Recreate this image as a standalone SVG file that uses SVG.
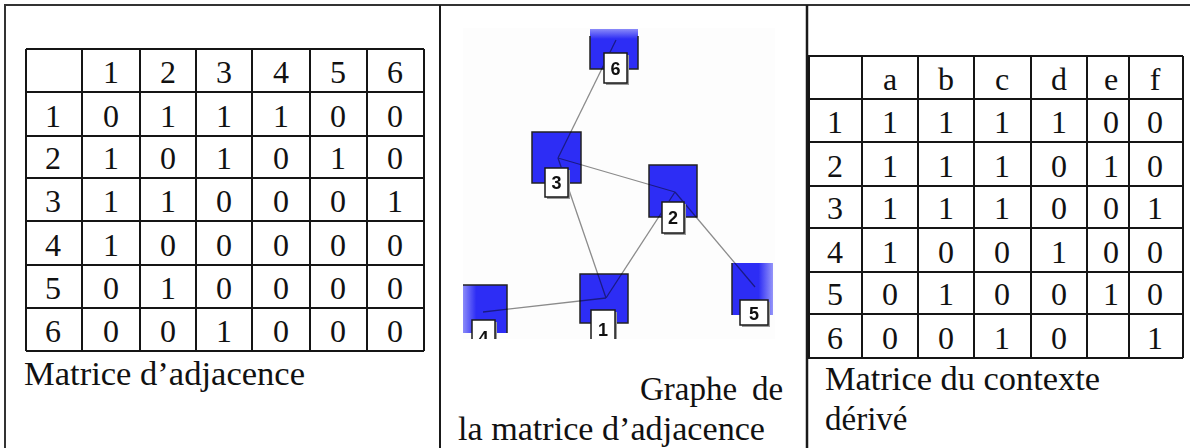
<svg xmlns="http://www.w3.org/2000/svg" width="1190" height="448" viewBox="0 0 1190 448">
<style>
.frame{stroke:#333;stroke-width:2;fill:none}
.grid{stroke:#151515;stroke-width:2;fill:none}
.t{font-family:"Liberation Serif","Times New Roman",serif;font-size:32px;fill:#111;text-anchor:middle}
.lbl{font-family:"Liberation Serif","Times New Roman",serif;font-size:33px;fill:#111}
.sq{stroke:#222;stroke-width:1.5}
.tag{fill:#fff;stroke:#1a1a1a;stroke-width:1.5}
.shadow{fill:#9a9a9a}
.num{font-family:"Liberation Sans",Arial,sans-serif;font-size:18px;font-weight:bold;fill:#111;text-anchor:middle}
.edge{stroke:#8c8c8c;stroke-width:1.3;fill:none}
</style>
<defs>
<linearGradient id="fadeTop" x1="0" y1="0" x2="0" y2="1">
<stop offset="0" stop-color="#2d2df5" stop-opacity="0.55"/>
<stop offset="0.25" stop-color="#2d2df5"/>
<stop offset="1" stop-color="#2d2df5"/>
</linearGradient>
<linearGradient id="fadeLeft" x1="0" y1="0" x2="1" y2="0">
<stop offset="0" stop-color="#2d2df5" stop-opacity="0.55"/>
<stop offset="0.3" stop-color="#2d2df5"/>
<stop offset="1" stop-color="#2d2df5"/>
</linearGradient>
<linearGradient id="fadeRight" x1="0" y1="0" x2="1" y2="0">
<stop offset="0" stop-color="#2d2df5"/>
<stop offset="0.65" stop-color="#2d2df5"/>
<stop offset="1" stop-color="#2d2df5" stop-opacity="0.5"/>
</linearGradient>
<clipPath id="graphClip"><rect x="455" y="22" width="330" height="317"/></clipPath>
<mask id="tagMask">
<rect x="440" y="0" width="370" height="448" fill="#fff"/>
<rect x="603" y="52" width="26" height="33" fill="#000"/>
<rect x="544" y="167" width="26" height="32" fill="#000"/>
<rect x="661" y="201" width="25" height="34" fill="#000"/>
<rect x="590" y="309" width="27" height="30" fill="#000"/>
<rect x="471" y="319" width="26" height="22" fill="#000"/>
<rect x="739" y="299" width="31" height="28" fill="#000"/>
</mask>
</defs>
<rect width="1190" height="448" fill="#fff"/>

<g id="frame">
<line class="frame" x1="4" y1="5" x2="1190" y2="5"/>
<line class="frame" x1="5" y1="5" x2="5" y2="448"/>
<line class="frame" x1="440" y1="5" x2="440" y2="448" style="stroke:#1a1a1a"/>
<line class="frame" x1="807" y1="5" x2="807" y2="448" style="stroke:#1a1a1a;stroke-width:2.5"/>
</g>

<g id="adjacency-matrix">
<path class="grid" d="M26 49H424M26 92H424M26 136H424M26 178H424M26 221H424M26 265H424M26 308H424M26 351H424M26 49V351M82 49V351M140 49V351M196 49V351M252 49V351M310 49V351M367 49V351M424 49V351"/>
<g class="t">
<text x="111" y="83">1</text><text x="168" y="83">2</text><text x="224" y="83">3</text><text x="281" y="83">4</text><text x="338" y="83">5</text><text x="395" y="83">6</text>
<text x="53" y="127">1</text><text x="111" y="127">0</text><text x="168" y="127">1</text><text x="224" y="127">1</text><text x="281" y="127">1</text><text x="338" y="127">0</text><text x="395" y="127">0</text>
<text x="53" y="169">2</text><text x="111" y="169">1</text><text x="168" y="169">0</text><text x="224" y="169">1</text><text x="281" y="169">0</text><text x="338" y="169">1</text><text x="395" y="169">0</text>
<text x="53" y="212">3</text><text x="111" y="212">1</text><text x="168" y="212">1</text><text x="224" y="212">0</text><text x="281" y="212">0</text><text x="338" y="212">0</text><text x="395" y="212">1</text>
<text x="53" y="256">4</text><text x="111" y="256">1</text><text x="168" y="256">0</text><text x="224" y="256">0</text><text x="281" y="256">0</text><text x="338" y="256">0</text><text x="395" y="256">0</text>
<text x="53" y="299">5</text><text x="111" y="299">0</text><text x="168" y="299">1</text><text x="224" y="299">0</text><text x="281" y="299">0</text><text x="338" y="299">0</text><text x="395" y="299">0</text>
<text x="53" y="342">6</text><text x="111" y="342">0</text><text x="168" y="342">0</text><text x="224" y="342">1</text><text x="281" y="342">0</text><text x="338" y="342">0</text><text x="395" y="342">0</text>
</g>
<text class="lbl" x="24" y="385" textLength="281" lengthAdjust="spacingAndGlyphs">Matrice d’adjacence</text>
</g>

<g id="graph" clip-path="url(#graphClip)">
<rect x="463" y="28" width="312" height="312" fill="#fdfdfd"/>
<g id="node-6">
<rect x="590" y="29" width="48" height="40" fill="url(#fadeTop)"/>
<path class="sq" d="M590 36V69H638V36" fill="none"/>
<rect class="shadow" x="606" y="55" width="23" height="30"/>
<rect class="tag" x="604" y="53" width="23" height="30"/>
<text class="num" x="615.5" y="75">6</text>
</g>
<g id="node-3">
<rect class="sq" x="532" y="132" width="49" height="51" fill="#2d2df5"/>
<rect class="shadow" x="547" y="170" width="23" height="29"/>
<rect class="tag" x="545" y="168" width="23" height="29"/>
<text class="num" x="556.5" y="189">3</text>
</g>
<g id="node-2">
<rect class="sq" x="649" y="165" width="48" height="52" fill="#2d2df5"/>
<rect class="shadow" x="664" y="204" width="22" height="31"/>
<rect class="tag" x="662" y="202" width="22" height="31"/>
<text class="num" x="673" y="224">2</text>
</g>
<g id="node-1">
<rect class="sq" x="580" y="274" width="48" height="49" fill="#2d2df5"/>
<rect class="shadow" x="593" y="312" width="24" height="30"/>
<rect class="tag" x="591" y="310" width="24" height="30"/>
<text class="num" x="603" y="336">1</text>
</g>
<g id="node-4">
<rect x="463" y="285" width="44" height="48" fill="url(#fadeLeft)"/>
<path class="sq" d="M463 285H507V333" fill="none"/>
<rect class="shadow" x="474" y="322" width="23" height="24"/>
<rect class="tag" x="472" y="320" width="23" height="24"/>
<text class="num" x="483.5" y="344">4</text>
</g>
<g id="node-5">
<rect x="732" y="263" width="41" height="52" fill="url(#fadeRight)"/>
<path class="sq" d="M732 263V315" fill="none"/>
<rect class="shadow" x="742" y="302" width="28" height="25"/>
<rect class="tag" x="740" y="300" width="28" height="25"/>
<text class="num" x="754" y="320">5</text>
</g>
<g id="connectors" mask="url(#tagMask)" style="mix-blend-mode:multiply">
<line class="edge" x1="616" y1="40" x2="558" y2="158"/>
<line class="edge" x1="558" y1="158" x2="675" y2="192"/>
<line class="edge" x1="558" y1="158" x2="606" y2="298"/>
<line class="edge" x1="675" y1="192" x2="606" y2="298"/>
<line class="edge" x1="675" y1="192" x2="755" y2="287"/>
<line class="edge" x1="606" y1="298" x2="483" y2="312"/>
</g>
</g>
<g id="graph-caption">
<text class="lbl" x="640" y="400">Graphe <tspan x="752">de</tspan></text>
<text class="lbl" x="458" y="440" textLength="307" lengthAdjust="spacingAndGlyphs">la matrice d’adjacence</text>
</g>

<g id="context-matrix">
<path class="grid" d="M808 56H1183M808 99H1183M808 142H1183M808 186H1183M808 228H1183M808 272H1183M808 314H1183M808 358H1183M809 56V358M862 56V358M918 56V358M974 56V358M1031 56V358M1087 56V358M1129 56V358M1183 56V358"/>
<g class="t">
<text x="890" y="90">a</text><text x="946" y="90">b</text><text x="1002" y="90">c</text><text x="1059" y="90">d</text><text x="1111" y="90">e</text><text x="1155" y="90">f</text>
<text x="835" y="133">1</text><text x="890" y="133">1</text><text x="946" y="133">1</text><text x="1002" y="133">1</text><text x="1059" y="133">1</text><text x="1111" y="133">0</text><text x="1155" y="133">0</text>
<text x="835" y="177">2</text><text x="890" y="177">1</text><text x="946" y="177">1</text><text x="1002" y="177">1</text><text x="1059" y="177">0</text><text x="1111" y="177">1</text><text x="1155" y="177">0</text>
<text x="835" y="219">3</text><text x="890" y="219">1</text><text x="946" y="219">1</text><text x="1002" y="219">1</text><text x="1059" y="219">0</text><text x="1111" y="219">0</text><text x="1155" y="219">1</text>
<text x="835" y="263">4</text><text x="890" y="263">1</text><text x="946" y="263">0</text><text x="1002" y="263">0</text><text x="1059" y="263">1</text><text x="1111" y="263">0</text><text x="1155" y="263">0</text>
<text x="835" y="305">5</text><text x="890" y="305">0</text><text x="946" y="305">1</text><text x="1002" y="305">0</text><text x="1059" y="305">0</text><text x="1111" y="305">1</text><text x="1155" y="305">0</text>
<text x="835" y="349">6</text><text x="890" y="349">0</text><text x="946" y="349">0</text><text x="1002" y="349">1</text><text x="1059" y="349">0</text><text x="1155" y="349">1</text>
</g>
<text class="lbl" x="825" y="390" textLength="275" lengthAdjust="spacingAndGlyphs">Matrice du contexte</text>
<text class="lbl" x="825" y="430">dérivé</text>
</g>
</svg>
